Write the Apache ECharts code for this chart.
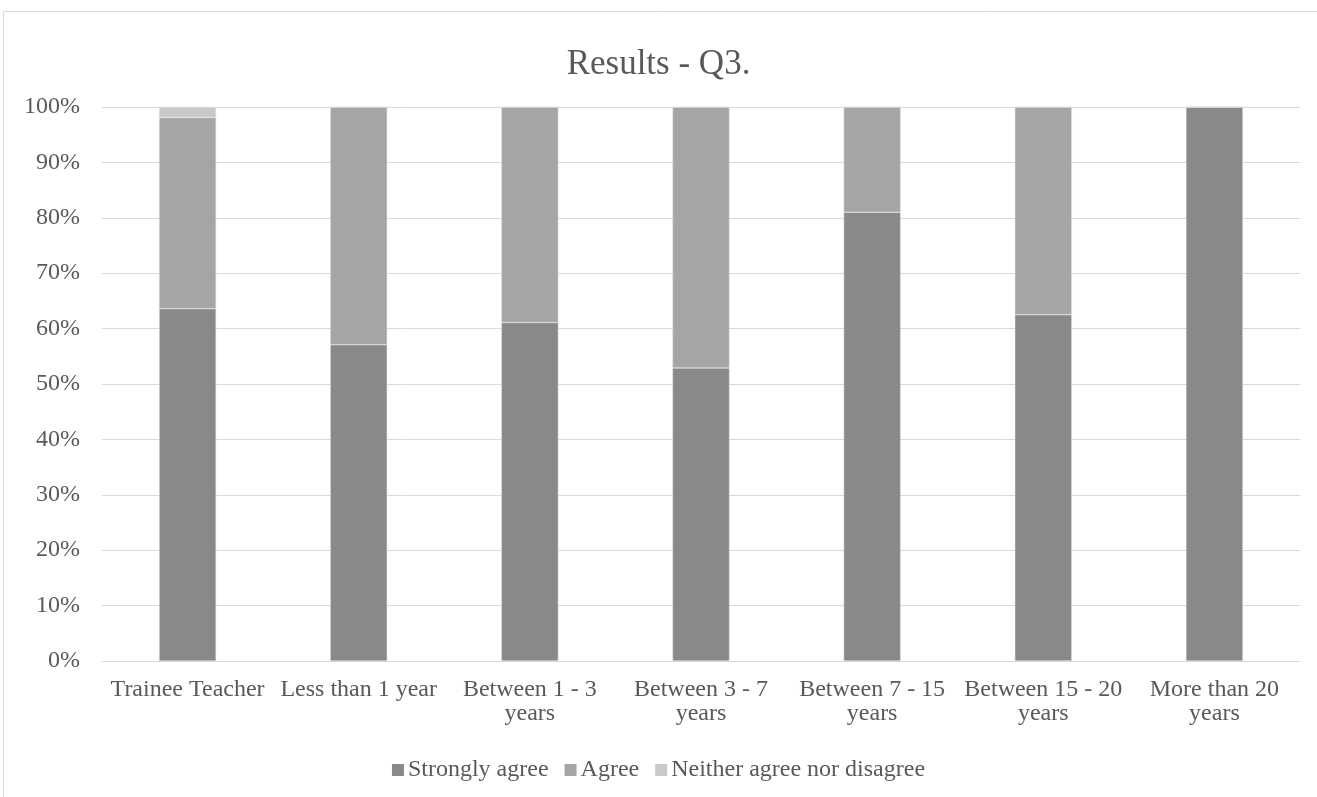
<!DOCTYPE html>
<html><head><meta charset="utf-8">
<script src="https://cdn.jsdelivr.net/npm/echarts@6/dist/echarts.min.js"></script>
<style>html,body{margin:0;padding:0;background:#fff;}#c{width:1317px;height:797px;}</style>
</head><body><div id="c"></div>
<script>
const categories = ['Trainee Teacher','Less than 1 year','Between 1 - 3\nyears','Between 3 - 7\nyears','Between 7 - 15\nyears','Between 15 - 20\nyears','More than 20\nyears'];
const stronglyAgree = [63.6, 57.1, 61.1, 52.9, 81.0, 62.5, 100];
const agree = [34.5, 42.9, 38.9, 47.1, 19.0, 37.5, 0];
const neither = [1.9, 0, 0, 0, 0, 0, 0];
const seriesNames = ['Strongly agree','Agree','Neither agree nor disagree'];
const colors = ['#898989','#a5a5a5','#c9c9c9'];
const font = 'Liberation Serif, Times New Roman, serif';
const chart = echarts.init(document.getElementById('c'));
const mk = (name, data, color) => ({
  name, type: 'bar', stack: 'a', data, barWidth: 57,
  itemStyle: {color, borderColor: '#e0e0e0', borderWidth: 0.5},
  emphasis: {disabled: true}
});
chart.setOption({
  animation: false,
  graphic: [{type:'rect', shape:{x:3.5,y:11.5,width:1400,height:900}, style:{fill:'none', stroke:'#d9d9d9', lineWidth:1}, z:-1}],
  title: {text: 'Results - Q3.', left: 'center', top: 42, textStyle:{fontFamily: font, fontSize: 35, fontWeight: 'normal', color:'#595959'}},
  legend: {top: 753, left: 'center', itemWidth: 12, itemHeight: 12, itemGap: 16, icon: 'rect',
    itemStyle: {borderWidth: 0},
    textStyle:{fontFamily: font, fontSize: 24, color:'#595959', padding:[0,0,0,-1]}, data: seriesNames},
  grid: {left: 102, right: 17, top: 107, bottom: 136, containLabel: false},
  xAxis: {type:'category', data: categories,
    axisLine:{lineStyle:{color:'#d9d9d9'}}, axisTick:{show:false},
    axisLabel:{fontFamily: font, fontSize: 24, color:'#595959', lineHeight: 24, margin: 17, interval: 0}},
  yAxis: {type:'value', min:0, max:100, interval:10,
    axisLabel:{formatter:'{value}%', fontFamily: font, fontSize: 24, color:'#595959', margin: 22},
    splitLine:{lineStyle:{color:'#d9d9d9'}}, axisLine:{show:false}, axisTick:{show:false}},
  series: [mk(seriesNames[0], stronglyAgree, colors[0]), mk(seriesNames[1], agree, colors[1]), mk(seriesNames[2], neither, colors[2])]
});
</script></body></html>
